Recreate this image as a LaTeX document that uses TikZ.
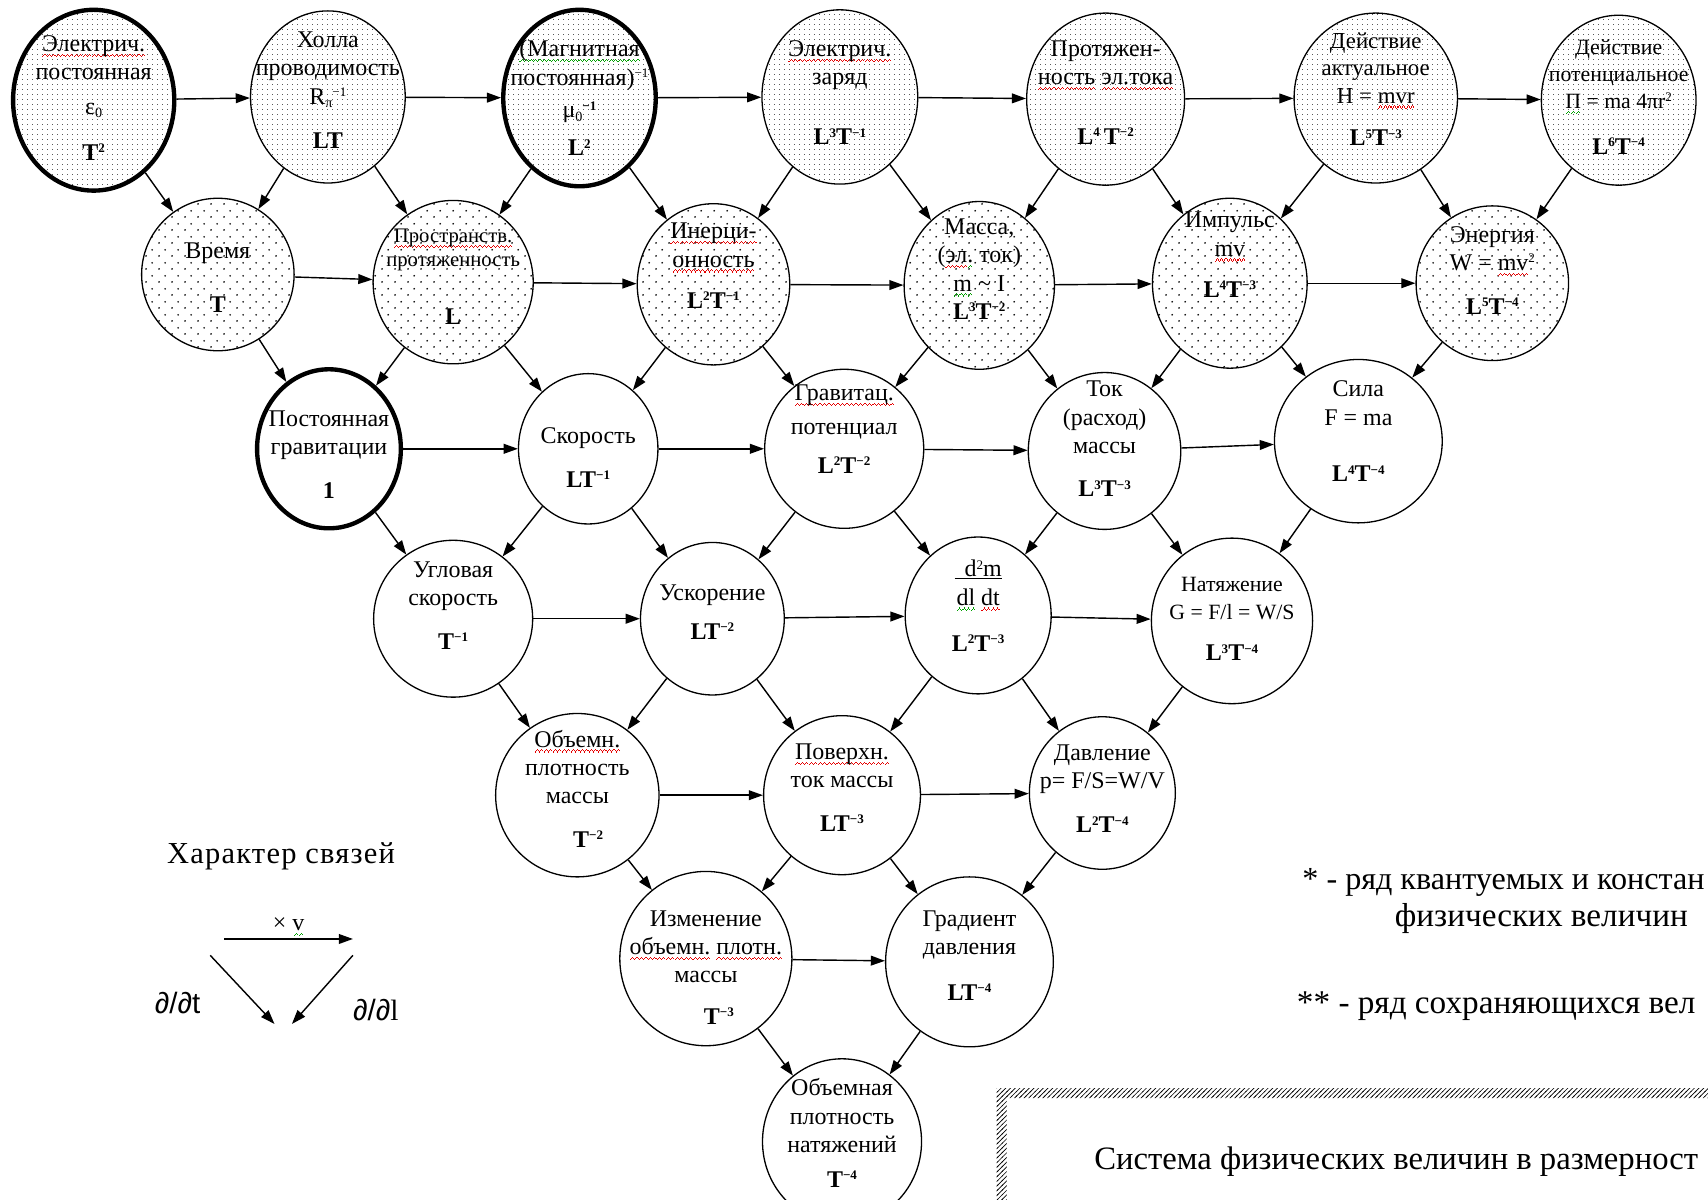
\documentclass[tikz,border=0pt]{standalone}
\usepackage{fontspec}
\setmainfont{Liberation Serif}
\newfontfamily\legendsans{Liberation Sans}
\newfontfamily\spacedserif[LetterSpace=4]{Liberation Serif}
\usepackage{xcolor}
\usetikzlibrary{
    arrows.meta,
    shapes.geometric,
    patterns.meta % dotted fills and the hatched frame
}

\definecolor{spellred}{RGB}{230,0,0}
\definecolor{spellgreen}{RGB}{0,160,0}

\newsavebox{\wavebox}
\newcommand{\wavebit}{\rule[-5pt]{1pt}{1pt}\rule[-4pt]{1pt}{1pt}\rule[-3pt]{1pt}{1pt}\rule[-4pt]{1pt}{1pt}}
\newcommand{\spellw}[2]{\sbox{\wavebox}{#2}\rlap{\textcolor{#1}{\hbox to \wd\wavebox{\xleaders\hbox{\wavebit}\hfill}}}\usebox{\wavebox}}
\newcommand{\redw}[1]{\spellw{spellred}{#1}}
\newcommand{\grnw}[1]{\spellw{spellgreen}{#1}}

\newcommand{\nf}{\fontsize{22}{26}\selectfont}
\newcommand{\sups}[1]{\raisebox{7pt}{\fontsize{12}{12}\selectfont #1}}
\newcommand{\subs}[1]{\raisebox{-3pt}{\fontsize{13}{13}\selectfont #1}}
\newcommand{\dimn}[1]{\textbf{#1}}

\tikzdeclarepattern{
    name=finedot,
    type=uncolored,
    bounding box={(0pt,0pt) and (5pt,5pt)},
    tile size={(5pt,5pt)},
    code={\fill (2.5pt,2.5pt) circle (0.45pt);}
}
\tikzdeclarepattern{
    name=sparsedot,
    type=uncolored,
    bounding box={(0pt,0pt) and (12pt,12pt)},
    tile size={(12pt,12pt)},
    code={\fill (3pt,3pt) circle (0.9pt); \fill (9pt,9pt) circle (0.9pt);}
}
\tikzdeclarepattern{
    name=framehatch,
    type=uncolored,
    bounding box={(-1pt,-1pt) and (5.3pt,5.3pt)},
    tile size={(4.3pt,4.3pt)},
    code={\draw[line width=0.6pt] (-0.5pt,-0.5pt) -- (4.8pt,4.8pt);}
}

\tikzset{
    >={Triangle[length=13pt,width=9pt]},
    qty/.style 2 args={ellipse, draw, line width=1.2pt, minimum width=#1, minimum height=#2, inner sep=0pt},
    heavy/.style={line width=4pt},
    finedots/.style={pattern=finedot, pattern color=black},
    sparsedots/.style={pattern=sparsedot, pattern color=black},
    txt/.style={align=center, inner sep=0pt, font=\nf},
    note/.style={inner sep=0pt, font=\fontsize{30.5}{34}\selectfont}
}

\begin{document}
\begin{tikzpicture}[x=1pt, y=-1pt, line width=1.3pt]
    \useasboundingbox (0,0) rectangle (1568,1101);
    \clip (0,0) rectangle (1568,1101);

    \draw (86,92) node[qty={148}{166}, heavy, finedots] (eps) {}
          (86,90) node[txt] (eps-t) {\redw{Электрич.}\\постоянная\\[6pt]ε\subs{0}\\[16pt]\dimn{T\sups{2}}};
    \draw (301,89) node[qty={142}{158}, finedots] (hall) {}
          (301,83) node[txt] (hall-t) {Холла\\проводимость\\R\subs{π}\sups{−1}\\[15pt]\dimn{LT}};
    \draw (532,90) node[qty={140}{162}, heavy, finedots] (mag) {}
          (532,90) node[txt] (mag-t) {\grnw{(Магнитная}\\постоянная)\sups{−1}\\[4pt]μ\subs{0}\sups{\bfseries −1}\\[9pt]\dimn{L\sups{2}}};
    \draw (771,89) node[qty={143}{160}, finedots] (charge) {}
          (771,85) node[txt] (charge-t) {\redw{Электрич.}\\заряд\\[29pt]\dimn{L\sups{3}T\sups{−1}}};
    \draw (1015,91) node[qty={145}{158}, finedots] (ext) {}
          (1015,85) node[txt] (ext-t) {Протяжен-\\\redw{ность} \redw{эл.тока}\\[29pt]\dimn{L\sups{4}\,T\sups{−2}}};
    \draw (1263,90) node[qty={150}{156}, finedots] (acth) {}
          (1263,82) node[txt, font=\fontsize{21}{25}\selectfont] (acth-t) {Действие\\актуальное\\H = \redw{mvr}\\[14pt]{\nf\dimn{L\sups{5}T\sups{−3}}}};
    \draw (1486,92) node[qty={142}{156}, finedots] (actp) {}
          (1486,89) node[txt, font=\fontsize{20}{25}\selectfont] (actp-t) {Действие\\потенциальное\\\grnw{П} = ma 4πr\sups{2}\\[17pt]{\nf\dimn{L\sups{6}T\sups{−4}}}};

    \draw (200,252) node[qty={140}{140}, sparsedots] (time) {}
          (200,255) node[txt] (time-t) {Время\\[24pt]\dimn{T}};
    \draw (416,259) node[qty={147}{150}, sparsedots] (space) {}
          (416,254) node[txt, font=\fontsize{19}{22}\selectfont] (space-t) {\redw{Пространств.}\\протяженность\\[31pt]{\nf\dimn{L}}};
    \draw (655,261) node[qty={140}{148}, sparsedots] (inert) {}
          (655,244) node[txt] (inert-t) {\redw{Инерци-}\\\redw{онность}\\[12pt]\dimn{L\sups{2}T\sups{−1}}};
    \draw (899,262) node[qty={138}{154}, sparsedots] (mass) {}
          (899,247) node[txt] (mass-t) {Масса,\\(\redw{эл}\grnw{.} ток)\\\grnw{m} \textasciitilde{} I\\\dimn{L\sups{3}T\sups{−2}}};
    \draw (1129,260) node[qty={142}{156}, sparsedots] (mom) {}
          (1129,234) node[txt] (mom-t) {Импульс\\\redw{mv}\\[12pt]\dimn{L\sups{4}T\sups{−3}}};
    \draw (1370,260) node[qty={140}{142}, sparsedots] (energy) {}
          (1370,248) node[txt] (energy-t) {Энергия\\W = \redw{mv}\sups{2}\\[14pt]\dimn{L\sups{5}T\sups{−4}}};

    \draw (302,412) node[qty={132}{146}, heavy] (grav) {}
          (302,417) node[txt] (grav-t) {Постоянная\\гравитации\\[14pt]\dimn{1}};
    \draw (540,412) node[qty={128}{138}] (vel) {}
          (540,420) node[txt] (vel-t) {Скорость\\[14pt]\dimn{LT\sups{−1}}};
    \draw (775,412) node[qty={146}{146}] (gpot) {}
          (775,394) node[txt] (gpot-t) {\redw{Гравитац.}\\[5pt]потенциал\\[10pt]\dimn{L\sups{2}T\sups{−2}}};
    \draw (1014,414) node[qty={140}{144}] (mflow) {}
          (1014,403) node[txt] (mflow-t) {Ток\\(расход)\\массы\\[14pt]\dimn{L\sups{3}T\sups{−3}}};
    \draw (1247,405) node[qty={154}{150}] (force) {}
          (1247,396) node[txt] (force-t) {Сила\\F = ma\\[26pt]\dimn{L\sups{4}T\sups{−4}}};

    \draw (416,568) node[qty={146}{144}] (angvel) {}
          (416,556) node[txt] (angvel-t) {Угловая\\скорость\\[14pt]\dimn{T\sups{−1}}};
    \draw (654,568) node[qty={132}{140}] (acc) {}
          (654,562) node[txt] (acc-t) {Ускорение\\[9pt]\dimn{LT\sups{−2}}};
    \draw (898,565) node[qty={134}{144}] (dmdt) {}
          (898,556) node[txt] (dmdt-t) {\underline{\ \,d\sups{2}m}\\\grnw{dl} \redw{dt}\\[16pt]\dimn{L\sups{2}T\sups{−3}}};
    \draw (1131,570) node[qty={148}{152}] (tension) {}
          (1131,568) node[txt, font=\fontsize{20}{26}\selectfont] (tension-t) {Натяжение\\G = F/l = W/S\\[12pt]{\nf\dimn{L\sups{3}T\sups{−4}}}};

    \draw (530,730) node[qty={150}{150}] (dens) {}
          (530,724) node[txt] (dens-t) {\redw{Объемн.}\\плотность\\массы\\[14pt]\hspace{20pt}\dimn{T\sups{−2}}};
    \draw (773,730) node[qty={144}{146}] (sflow) {}
          (773,723) node[txt] (sflow-t) {\redw{Поверхн.}\\ток массы\\[14pt]\dimn{LT\sups{−3}}};
    \draw (1012,728) node[qty={134}{140}] (press) {}
          (1012,724) node[txt] (press-t) {Давление\\p= F/S=W/V\\[15pt]\dimn{L\sups{2}T\sups{−4}}};

    \draw (648,880) node[qty={158}{160}] (ddens) {}
          (648,888) node[txt] (ddens-t) {Изменение\\\redw{объемн.} \redw{плотн.}\\массы\\[12pt]\hspace{24pt}\dimn{T\sups{−3}}};
    \draw (890,883) node[qty={154}{156}] (pgrad) {}
          (890,877) node[txt] (pgrad-t) {Градиент\\давления\\[16pt]\dimn{LT\sups{−4}}};

    \draw (773,1048) node[qty={146}{152}] (tdens) {}
          (773,1040) node[txt] (tdens-t) {Объемная\\плотность\\натяжений\\[6pt]\dimn{T\sups{−4}}};

    \draw[->] (eps) to (hall);
    \draw[->] (hall) to (mag);
    \draw[->] (mag) to (charge);
    \draw[->] (charge) to (ext);
    \draw[->] (ext) to (acth);
    \draw[->] (acth) to (actp);

    \draw[->] (eps) to (time);
    \draw[->] (hall) to (time);
    \draw[->] (hall) to (space);
    \draw[->] (mag) to (space);
    \draw[->] (mag) to (inert);
    \draw[->] (charge) to (inert);
    \draw[->] (charge) to (mass);
    \draw[->] (ext) to (mass);
    \draw[->] (ext) to (mom);
    \draw[->] (acth) to (mom);
    \draw[->] (acth) to (energy);
    \draw[->] (actp) to (energy);

    \draw[->] (time) to (space);
    \draw[->] (space) to (inert);
    \draw[->] (inert) to (mass);
    \draw[->] (mass) to (mom);
    \draw[->] (mom) to (energy);

    \draw[->] (time) to (grav);
    \draw[->] (space) to (grav);
    \draw[->] (space) to (vel);
    \draw[->] (inert) to (vel);
    \draw[->] (inert) to (gpot);
    \draw[->] (mass) to (gpot);
    \draw[->] (mass) to (mflow);
    \draw[->] (mom) to (mflow);
    \draw[->] (mom) to (force);
    \draw[->] (energy) to (force);

    \draw[->] (grav) to (vel);
    \draw[->] (vel) to (gpot);
    \draw[->] (gpot) to (mflow);
    \draw[->] (mflow) to (force);

    \draw[->] (grav) to (angvel);
    \draw[->] (vel) to (angvel);
    \draw[->] (vel) to (acc);
    \draw[->] (gpot) to (acc);
    \draw[->] (gpot) to (dmdt);
    \draw[->] (mflow) to (dmdt);
    \draw[->] (mflow) to (tension);
    \draw[->] (force) to (tension);

    \draw[->] (angvel) to (acc);
    \draw[->] (acc) to (dmdt);
    \draw[->] (dmdt) to (tension);

    \draw[->] (angvel) to (dens);
    \draw[->] (acc) to (dens);
    \draw[->] (acc) to (sflow);
    \draw[->] (dmdt) to (sflow);
    \draw[->] (dmdt) to (press);
    \draw[->] (tension) to (press);

    \draw[->] (dens) to (sflow);
    \draw[->] (sflow) to (press);

    \draw[->] (dens) to (ddens);
    \draw[->] (sflow) to (ddens);
    \draw[->] (sflow) to (pgrad);
    \draw[->] (press) to (pgrad);

    \draw[->] (ddens) to (pgrad);

    \draw[->] (ddens) to (tdens);
    \draw[->] (pgrad) to (tdens);

    \draw (258,786) node[inner sep=0pt, font=\spacedserif\fontsize{28}{32}\selectfont] (legend) {Характер связей};
    \coordinate (lv-a) at (206,862);
    \coordinate (lv-b) at (324,862);
    \draw[->] (lv-a) to node[above=2pt, inner sep=0pt, font=\fontsize{22}{24}\selectfont] (lv-t) {× \grnw{v}} (lv-b);
    \coordinate (lt-a) at (193,877);
    \coordinate (lt-b) at (252,940);
    \draw[->] (lt-a) to (lt-b);
    \coordinate (ll-a) at (324,877);
    \coordinate (ll-b) at (268,940);
    \draw[->] (ll-a) to (ll-b);
    \draw (163,921) node[inner sep=0pt, font=\legendsans\fontsize{27}{30}\selectfont] (lt-t) {∂/∂t};
    \draw (345,927) node[inner sep=0pt, font=\legendsans\fontsize{27}{30}\selectfont] (ll-t) {∂/∂\textrm{l}};

    \draw (1195,810) node[note, anchor=west, font=\fontsize{29.5}{34}\selectfont] (note-q) {* - ряд квантуемых и констан};
    \draw (1415,843) node[note] (note-qb) {физических величин};
    \draw (1190,924) node[note, anchor=west] (note-c) {** - ряд сохраняющихся вел};

    \fill[pattern=framehatch, pattern color=black, even odd rule] (915,999) rectangle (1600,1130) (924,1008) rectangle (1600,1130);
    \draw (1004,1066) node[note, anchor=west, font=\fontsize{30}{34}\selectfont] (title) {Система физических величин в размерност};
\end{tikzpicture}
\end{document}
